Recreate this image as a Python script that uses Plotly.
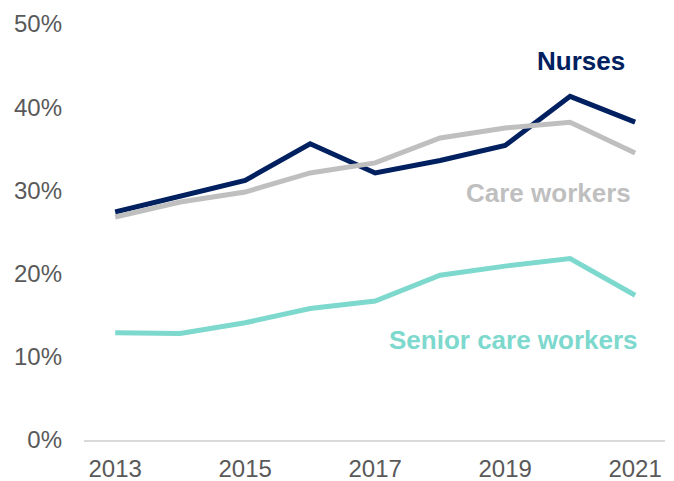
import plotly.graph_objects as go

years = [2013, 2014, 2015, 2016, 2017, 2018, 2019, 2020, 2021]

nurses = [27.4, 29.3, 31.2, 35.6, 32.1, 33.6, 35.4, 41.3, 38.2]
care_workers = [26.8, 28.6, 29.8, 32.1, 33.3, 36.3, 37.5, 38.2, 34.5]
senior_care_workers = [12.9, 12.8, 14.1, 15.8, 16.7, 19.8, 20.9, 21.8, 17.4]

x_ticks = [2013, 2015, 2017, 2019, 2021]
y_ticks = [0, 10, 20, 30, 40, 50]

NAVY = "#002060"
GREY = "#BFBFBF"
TEAL = "#7DD8CD"

series = [
    ("Nurses", nurses, NAVY),
    ("Care workers", care_workers, GREY),
    ("Senior care workers", senior_care_workers, TEAL),
]

fig = go.Figure()
for name, vals, col in series:
    fig.add_trace(go.Scatter(x=years, y=vals, mode="lines", name=name,
                             line=dict(color=col, width=5)))

# direct labels instead of a legend
labels = [
    ("Nurses", 2020.87, 45.5, NAVY),
    ("Care workers", 2020.97, 29.7, GREY),
    ("Senior care workers", 2021.08, 12.0, TEAL),
]
for text, x, y, col in labels:
    fig.add_annotation(x=x, y=y, text=f"<b>{text}</b>", showarrow=False,
                       xanchor="right", yanchor="middle",
                       font=dict(size=26, color=col,
                                 family="Arial, Liberation Sans"))

# page body has an 8px margin, so the figure is sized to fit the window
fig.update_layout(
    width=666, height=473,
    margin=dict(l=76, r=9, t=16, b=41),
    paper_bgcolor="white", plot_bgcolor="white",
    showlegend=False,
    font=dict(family="Arial, Liberation Sans", size=24, color="#595959"),
)
fig.update_xaxes(range=[2012.52, 2021.46], tickvals=x_ticks,
                 showgrid=False, zeroline=False, automargin=False,
                 showline=True, linecolor="#D9D9D9", linewidth=1.5,
                 ticks="", ticklabelstandoff=6)
fig.update_yaxes(range=[0, 50], tickvals=y_ticks,
                 ticktext=[f"{v}%" for v in y_ticks],
                 showgrid=False, zeroline=False, showline=False,
                 automargin=False, ticks="", ticklabelstandoff=21)

fig.write_html("out.html")
